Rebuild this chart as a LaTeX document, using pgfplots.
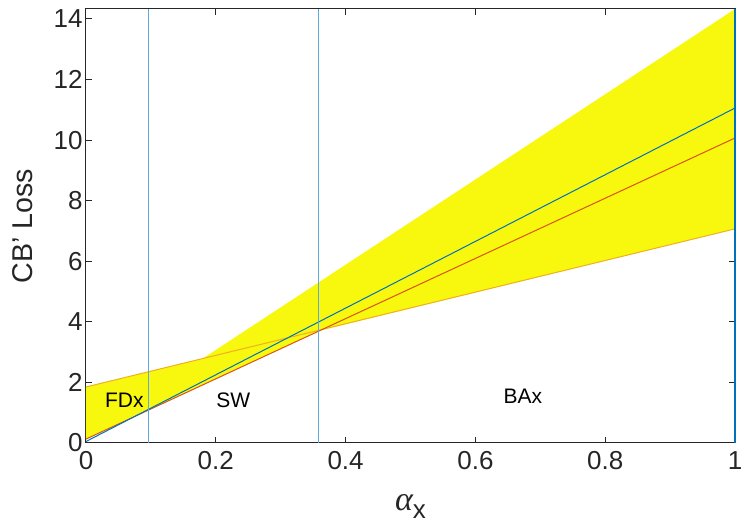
\documentclass[border=0pt]{standalone}
\usepackage{pgfplots}
\pgfplotsset{compat=1.18}
\usepackage{fontspec}
\setmainfont{Liberation Sans}
\newfontfamily\greekit{Liberation Serif}

\definecolor{fillyel}{RGB}{248,247,14}
\definecolor{mlorange}{RGB}{237,177,32}
\definecolor{mlred}{RGB}{217,83,25}
\definecolor{mlblue}{RGB}{0,114,189}
\definecolor{vblue}{RGB}{95,170,220}
\definecolor{axgray}{RGB}{38,38,38}

\begin{document}
\begin{tikzpicture}
\useasboundingbox (-86pt,-86pt) rectangle (655pt,443pt);
\begin{axis}[
    scale only axis,
    width=649pt, height=434pt,
    xmin=0, xmax=1, ymin=0, ymax=14.33,
    xtick={0,0.2,0.4,0.6,0.8,1},
    ytick={0,2,...,14},
    xticklabels={0,0.2,0.4,0.6,0.8,1},
    tick align=inside,
    major tick length=6pt,
    axis line style={axgray, line width=1pt},
    every tick/.style={axgray, line width=1pt},
    tick label style={font=\fontsize{26}{30}\selectfont, text=axgray},
    xticklabel style={yshift=-5pt},
    /pgf/number format/assume math mode=true,
    ylabel={CB' Loss},
    xlabel={{\greekit\itshape\fontsize{34}{34}\selectfont α}\raisebox{-0.55ex}{\fontsize{26}{26}\selectfont x}},
    label style={font=\fontsize{28.6}{32}\selectfont, text=axgray},
    ylabel style={at={(axis description cs:-0.097,0.5)}, anchor=center, rotate=0},
    xlabel style={at={(axis description cs:0.5,-0.118)}, anchor=north, inner sep=0pt},
    clip=false,
]
% yellow band
\addplot[fill=fillyel, draw=none] coordinates {
    (0,1.85)(0.18,2.79)(1,14.33)(1,7.07)(0.36,3.71)(0,0.13)
} -- cycle;
% lines
\addplot[mlorange, line width=1pt] coordinates {(0,1.85)(1,7.07)};
\addplot[mlred, line width=1pt] coordinates {(0,0.13)(1,10.07)};
\addplot[mlblue, line width=1pt] coordinates {(0,0.05)(1,11.06)};
% region boundaries
\addplot[vblue, line width=1.5pt] coordinates {(0.0966,0)(0.0966,14.33)};
\addplot[vblue, line width=1.5pt] coordinates {(0.3586,0)(0.3586,14.33)};
\addplot[mlblue, line width=1.5pt] coordinates {(1,0)(1,14.33)};

\node[font=\fontsize{21}{24}\selectfont] at (axis cs:0.059,1.42) {FDx};
\node[font=\fontsize{21}{24}\selectfont] at (axis cs:0.227,1.42) {SW};
\node[font=\fontsize{21}{24}\selectfont] at (axis cs:0.673,1.55) {BAx};
\end{axis}
\end{tikzpicture}
\end{document}
